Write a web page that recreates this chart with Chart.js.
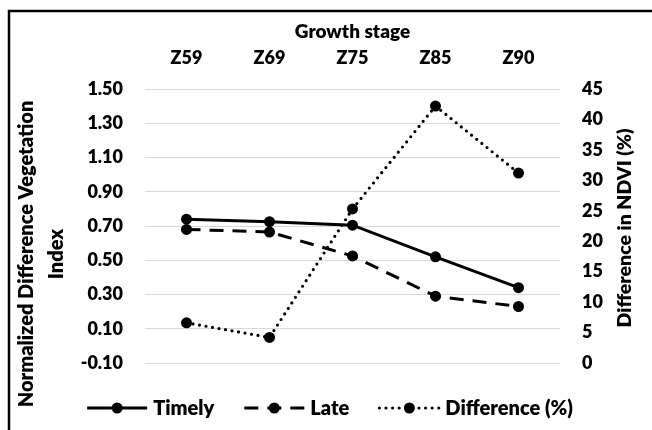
<!DOCTYPE html>
<html>
<head>
<meta charset="utf-8">
<script src="https://cdn.jsdelivr.net/npm/chart.js@4/dist/chart.umd.min.js"></script>
<style>
  html, body { margin: 0; padding: 0; background: #fff; }
  #wrap { width: 652px; height: 430px; position: relative; }
</style>
</head>
<body>
<div id="wrap"><canvas id="c" width="652" height="430"></canvas></div>
<script>
// ---- data ----
const stages = ["Z59", "Z69", "Z75", "Z85", "Z90"];
const timely = [0.74, 0.725, 0.705, 0.52, 0.34];
const late = [0.68, 0.665, 0.525, 0.29, 0.23];
const difference = [6.6, 4.2, 25.3, 42.2, 31.2];
const ndviTicks = [-0.1, 0.1, 0.3, 0.5, 0.7, 0.9, 1.1, 1.3, 1.5];
const diffTicks = [0, 5, 10, 15, 20, 25, 30, 35, 40, 45];
const seriesNames = ["Timely", "Late", "Difference (%)"];
const xTitle = "Growth stage";
const yTitle = ["Normalized Difference Vegetation", "Index"];
const y1Title = "Difference in NDVI (%)";

const FONT = "Lato, 'Open Sans', sans-serif";
const W = 800;

const framePlugin = {
  id: 'frame',
  afterDraw(chart) {
    const ctx = chart.ctx;
    ctx.save();
    ctx.strokeStyle = '#000';
    ctx.lineWidth = 2.5;
    ctx.beginPath();
    ctx.moveTo(652, 11);
    ctx.lineTo(9, 11);
    ctx.lineTo(9, 430);
    ctx.stroke();
    ctx.restore();
  }
};

const axisTitlesPlugin = {
  id: 'axisTitles',
  afterDraw(chart) {
    const ctx = chart.ctx;
    ctx.save();
    ctx.fillStyle = '#000';
    ctx.font = W + " 20px " + FONT;
    ctx.textAlign = 'center';
    ctx.textBaseline = 'middle';
    const xs = [27, 57];
    yTitle.forEach((t, i) => {
      ctx.save();
      ctx.translate(xs[i], 254);
      ctx.rotate(-Math.PI / 2);
      ctx.fillText(t, 0, 0);
      ctx.restore();
    });
    ctx.font = W + " 19.5px " + FONT;
    ctx.save();
    ctx.translate(625, 228);
    ctx.rotate(-Math.PI / 2);
    ctx.fillText(y1Title, 0, 0);
    ctx.restore();
    ctx.restore();
  }
};

const legendPlugin = {
  id: 'customLegend',
  afterDraw(chart) {
    const ctx = chart.ctx;
    ctx.save();
    ctx.font = W + " 20px " + FONT;
    const symW = 60, gapT = 6, gapItem = 30, cy = 408;
    const items = chart.data.datasets.map(ds => ({ds, w: ctx.measureText(ds.label).width}));
    let total = 0;
    items.forEach((it, i) => { total += symW + gapT + it.w + (i < items.length - 1 ? gapItem : 0); });
    let x = 330 - total / 2;
    items.forEach((it) => {
      const ds = it.ds;
      ctx.save();
      ctx.strokeStyle = ds.borderColor;
      ctx.lineWidth = ds.borderWidth;
      ctx.lineCap = ds.borderCapStyle || 'butt';
      ctx.setLineDash(ds.borderDash || []);
      ctx.beginPath();
      ctx.moveTo(x, cy);
      ctx.lineTo(x + symW, cy);
      ctx.stroke();
      ctx.setLineDash([]);
      ctx.fillStyle = ds.pointBackgroundColor;
      ctx.beginPath();
      ctx.arc(x + symW / 2, cy, ds.pointRadius, 0, Math.PI * 2);
      ctx.fill();
      ctx.restore();
      ctx.fillStyle = '#000';
      ctx.textAlign = 'left';
      ctx.textBaseline = 'middle';
      ctx.fillText(ds.label, x + symW + gapT, cy + 1);
      x += symW + gapT + it.w + gapItem;
    });
    ctx.restore();
  }
};

new Chart(document.getElementById('c'), {
  type: 'line',
  data: {
    labels: stages,
    datasets: [
      {
        label: seriesNames[0], data: timely, yAxisID: 'y',
        borderColor: '#000', backgroundColor: '#000', borderWidth: 3,
        pointRadius: 5.5, pointBackgroundColor: '#000', pointBorderWidth: 0,
        tension: 0
      },
      {
        label: seriesNames[1], data: late, yAxisID: 'y',
        borderColor: '#000', backgroundColor: '#000', borderWidth: 3,
        borderDash: [14, 9],
        pointRadius: 5.5, pointBackgroundColor: '#000', pointBorderWidth: 0,
        tension: 0
      },
      {
        label: seriesNames[2], data: difference, yAxisID: 'y1',
        borderColor: '#000', backgroundColor: '#000', borderWidth: 3.2,
        borderDash: [0, 6.6], borderCapStyle: 'round',
        pointRadius: 5.5, pointBackgroundColor: '#000', pointBorderWidth: 0,
        tension: 0
      }
    ]
  },
  options: {
    responsive: false,
    animation: false,
    layout: { padding: { left: 0, right: 0, top: 0, bottom: 67 } },
    plugins: {
      legend: { display: false },
      tooltip: { enabled: false },
      title: { display: false }
    },
    scales: {
      x: {
        position: 'top',
        offset: true,
        grid: { display: false, drawTicks: false },
        border: { display: false },
        ticks: { color: '#000', font: { family: FONT, size: 18, weight: W }, padding: 20, maxRotation: 0 },
        title: { display: true, text: xTitle, color: '#000', font: { family: FONT, size: 19, weight: W }, padding: { top: 20, bottom: 0 } },
        afterFit(scale) { scale.height = 89; }
      },
      y: {
        position: 'left',
        min: -0.1, max: 1.5,
        afterBuildTicks(scale) { scale.ticks = ndviTicks.map(v => ({value: v})); },
        grid: { color: '#d9d9d9', lineWidth: 1, drawTicks: false },
        border: { display: false },
        ticks: {
          color: '#000', font: { family: FONT, size: 18, weight: W }, padding: 22,
          callback: (v) => Number(v).toFixed(2)
        },
        afterFit(scale) { scale.width = 145; }
      },
      y1: {
        position: 'right',
        min: 0, max: 45,
        afterBuildTicks(scale) { scale.ticks = diffTicks.map(v => ({value: v})); },
        grid: { display: false, drawTicks: false },
        border: { display: false },
        ticks: { color: '#000', font: { family: FONT, size: 18, weight: W }, padding: 22 },
        afterFit(scale) { scale.width = 92; }
      }
    }
  },
  plugins: [framePlugin, axisTitlesPlugin, legendPlugin]
});
</script>
</body>
</html>
